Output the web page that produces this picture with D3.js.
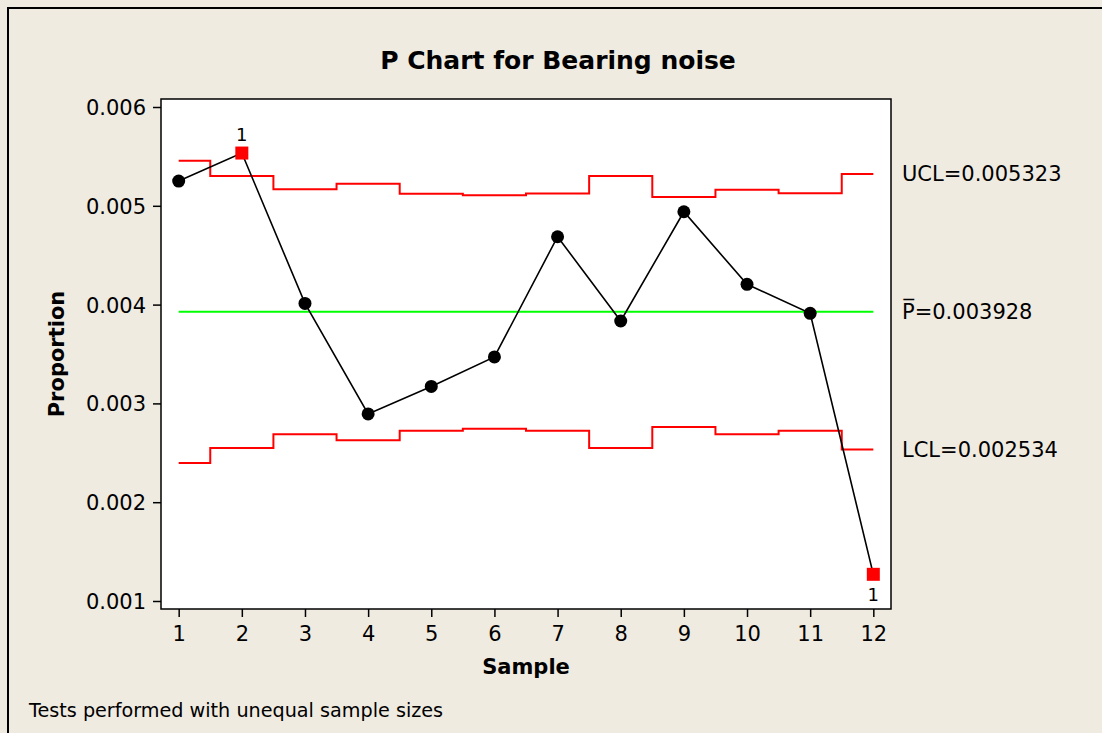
<!DOCTYPE html>
<html>
<head>
<meta charset="utf-8">
<script src="https://cdn.jsdelivr.net/npm/d3@7"></script>
<style>
  html, body { margin: 0; padding: 0; background: #efebe1; }
  text { font-family: "DejaVu Sans", Verdana, sans-serif; fill: #000; }
</style>
</head>
<body>
<div id="placeholder"></div>
<script>
// sample numbers
var samples = [1, 2, 3, 4, 5, 6, 7, 8, 9, 10, 11, 12];
// proportion for each sample
var proportions = [0.00525, 0.005534, 0.004012, 0.002893, 0.003172, 0.00347, 0.004687, 0.003834, 0.00494, 0.004205, 0.003912, 0.00127];
// control limits (unequal sample sizes, so they step)
var ucl = [0.005457, 0.005302, 0.005167, 0.005224, 0.005123, 0.005106, 0.005125, 0.005302, 0.00509, 0.005163, 0.005126, 0.005323];
var lcl = [0.002397, 0.002549, 0.002687, 0.002626, 0.002723, 0.002744, 0.002723, 0.002549, 0.00276, 0.002687, 0.002723, 0.002534];
var centerLine = 0.003928;
// points flagged by test 1
var flagged = [2, 12];
var yTicks = [0.001, 0.002, 0.003, 0.004, 0.005, 0.006];
var limitLabels = ["UCL=0.005323", "P\u0305=0.003928", "LCL=0.002534"];

var width = 1102, height = 733;
var plotLeft = 161, plotRight = 891, plotTop = 99, plotBottom = 609;

var svg = d3.select("#placeholder")
  .append("svg")
  .attr("width", width)
  .attr("height", height)
  .style("display", "block");

svg.append("rect")
  .attr("width", width).attr("height", height)
  .attr("fill", "#efebe1");

// outer frame (left and top edges only visible)
svg.append("path")
  .attr("d", "M8," + height + "V8H" + width)
  .attr("fill", "none")
  .attr("stroke", "#000")
  .attr("stroke-width", 2);

var x = d3.scaleLinear().domain([0.72, 12.28]).range([plotLeft, plotRight]);
var y = d3.scaleLinear().domain([0.000919, 0.006081]).range([plotBottom, plotTop]);

svg.append("rect")
  .attr("x", plotLeft).attr("y", plotTop)
  .attr("width", plotRight - plotLeft).attr("height", plotBottom - plotTop)
  .attr("fill", "#fff")
  .attr("stroke", "#000")
  .attr("stroke-width", 1.5);

// axes
var yAxis = svg.append("g")
  .attr("transform", "translate(" + plotLeft + ",0)")
  .call(d3.axisLeft(y).tickValues(yTicks).tickFormat(d3.format(".3f")).tickSize(8).tickSizeOuter(0).tickPadding(7));
yAxis.select(".domain").remove();
yAxis.selectAll("line").attr("stroke", "#000").attr("stroke-width", 1.5);
yAxis.selectAll("text").style("font-size", "21px").attr("dy", "0.36em");

var xAxis = svg.append("g")
  .attr("transform", "translate(0," + plotBottom + ")")
  .call(d3.axisBottom(x).tickValues(samples).tickFormat(d3.format("d")).tickSize(8).tickSizeOuter(0).tickPadding(9));
xAxis.select(".domain").remove();
xAxis.selectAll("line").attr("stroke", "#000").attr("stroke-width", 1.5);
xAxis.selectAll("text").style("font-size", "21px");

// limit lines
var stepLine = d3.line()
  .x(function(d) { return x(d[0]); })
  .y(function(d) { return y(d[1]); })
  .curve(d3.curveStep);

svg.append("path")
  .datum(d3.zip(samples, ucl))
  .attr("d", stepLine)
  .attr("fill", "none").attr("stroke", "#ff0000").attr("stroke-width", 2);

svg.append("path")
  .datum(d3.zip(samples, lcl))
  .attr("d", stepLine)
  .attr("fill", "none").attr("stroke", "#ff0000").attr("stroke-width", 2);

svg.append("line")
  .attr("x1", x(1)).attr("x2", x(12))
  .attr("y1", y(centerLine)).attr("y2", y(centerLine))
  .attr("stroke", "#00ff00").attr("stroke-width", 2);

// data line
var line = d3.line()
  .x(function(d) { return x(d[0]); })
  .y(function(d) { return y(d[1]); });

var pts = d3.zip(samples, proportions);

svg.append("path")
  .datum(pts)
  .attr("d", line)
  .attr("fill", "none").attr("stroke", "#000").attr("stroke-width", 1.6);

svg.selectAll("circle.pt")
  .data(pts.filter(function(d) { return flagged.indexOf(d[0]) < 0; }))
  .enter()
  .append("circle")
  .attr("class", "pt")
  .attr("cx", function(d) { return x(d[0]); })
  .attr("cy", function(d) { return y(d[1]); })
  .attr("r", 6.5)
  .attr("fill", "#000");

var bad = pts.filter(function(d) { return flagged.indexOf(d[0]) >= 0; });
svg.selectAll("rect.bad")
  .data(bad)
  .enter()
  .append("rect")
  .attr("class", "bad")
  .attr("x", function(d) { return x(d[0]) - 6.5; })
  .attr("y", function(d) { return y(d[1]) - 6.5; })
  .attr("width", 13).attr("height", 13)
  .attr("fill", "#ff0000");

// test number labels: above if high, below if low
svg.selectAll("text.flag")
  .data(bad)
  .enter()
  .append("text")
  .attr("class", "flag")
  .attr("x", function(d) { return x(d[0]); })
  .attr("y", function(d) { return d[1] > centerLine ? y(d[1]) - 12 : y(d[1]) + 27; })
  .attr("text-anchor", "middle")
  .style("font-size", "18px")
  .text("1");

// limit labels on the right
var labelVals = [ucl[ucl.length - 1], centerLine, lcl[lcl.length - 1]];
svg.selectAll("text.lim")
  .data(labelVals)
  .enter()
  .append("text")
  .attr("class", "lim")
  .attr("x", 902)
  .attr("y", function(d) { return y(d); })
  .attr("dy", "0.36em")
  .style("font-size", "21px")
  .text(function(d, i) { return limitLabels[i]; });

// titles
svg.append("text")
  .attr("x", 558).attr("y", 69)
  .attr("text-anchor", "middle")
  .style("font-size", "25px").style("font-weight", "bold")
  .text("P Chart for Bearing noise");

svg.append("text")
  .attr("x", (plotLeft + plotRight) / 2).attr("y", 674)
  .attr("text-anchor", "middle")
  .style("font-size", "21px").style("font-weight", "bold")
  .text("Sample");

svg.append("text")
  .attr("transform", "translate(64," + (plotTop + plotBottom) / 2 + ") rotate(-90)")
  .attr("text-anchor", "middle")
  .style("font-size", "21px").style("font-weight", "bold")
  .text("Proportion");

svg.append("text")
  .attr("x", 29).attr("y", 717)
  .style("font-size", "19.2px")
  .text("Tests performed with unequal sample sizes");
</script>
</body>
</html>
